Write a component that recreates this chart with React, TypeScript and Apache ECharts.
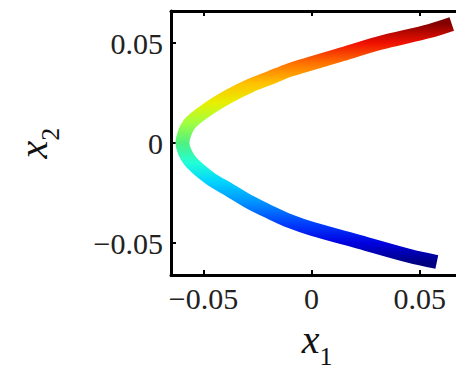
import React, { useEffect, useRef } from "react";
import * as echarts from "echarts";

// Curve, from the lower (blue) end to the upper (red) end
const x1Values = [0.0579, 0.0454, 0.0222, 0.0005, -0.0102, -0.0194, -0.0287, -0.038, -0.0472, -0.0565, -0.0597, -0.0565, -0.0472, -0.038, -0.0287, -0.0194, -0.0102, 0.0005, 0.013, 0.0315, 0.0546, 0.0648];
const x2Values = [-0.0595, -0.0565, -0.0495, -0.043, -0.039, -0.0345, -0.0295, -0.0235, -0.0175, -0.0085, 0, 0.0095, 0.0175, 0.0235, 0.0285, 0.0325, 0.0365, 0.04, 0.044, 0.05, 0.056, 0.0595];

const xTickValues = [-0.05, 0, 0.05];
const xTickLabels = ["\u22120.05", "0", "0.05"];
const yTickValues = [-0.05, 0, 0.05];
const yTickLabels = ["\u22120.05", "0", "0.05"];

// jet-like colours sampled at x2 = -0.06, -0.05, ..., 0.06
const colorStops = ["#000080", "#0000e0", "#0040ff", "#0090ff", "#00d0ff", "#20ffd8", "#50f080", "#a0ff40", "#e8f000", "#ffc000", "#ff7000", "#f01000", "#800000"];

const SERIF = "'Liberation Serif', 'DejaVu Serif', serif";

export default function App() {
  const ref = useRef<HTMLDivElement>(null);
  useEffect(() => {
    if (!ref.current) return;
    const chart = echarts.init(ref.current, null, { renderer: "svg" });
    const data = x1Values.map((x, i) => [x, x2Values[i]]);
    const fmt = (vals: number[], labels: string[]) => (v: number) => {
      const i = vals.findIndex((t) => Math.abs(t - v) < 1e-9);
      return i >= 0 ? labels[i] : "";
    };
    const nameRich = {
      x: { fontFamily: SERIF, fontStyle: "italic", fontSize: 40, lineHeight: 44, verticalAlign: "top", color: "#111" },
      s: { fontFamily: SERIF, fontSize: 26, lineHeight: 24, padding: [24, 0, 0, 0], verticalAlign: "top", color: "#111" },
    };
    const labelStyle = { fontFamily: SERIF, fontSize: 30, color: "#222" };
    chart.setOption({
      animation: false,
      backgroundColor: "#fff",
      grid: { left: 171, top: 11, right: -7, bottom: 98, containLabel: false, outerBoundsMode: "none" },
      visualMap: {
        show: false,
        type: "continuous",
        dimension: 1,
        seriesIndex: 0,
        min: -0.06,
        max: 0.06,
        inRange: { color: colorStops },
      },
      xAxis: [
        {
          type: "value",
          position: "bottom",
          min: -0.065,
          max: 0.07,
          splitLine: { show: false },
          axisLine: { show: true, onZero: false, lineStyle: { color: "#000", width: 3 } },
          axisTick: { show: true, inside: true, length: 5, customValues: xTickValues, lineStyle: { color: "#000", width: 2 } },
          axisLabel: { show: true, margin: 8, customValues: xTickValues, formatter: fmt(xTickValues, xTickLabels), ...labelStyle },
          name: "{x|x}{s|1}",
          nameLocation: "middle",
          nameGap: 44,
          nameTextStyle: { rich: nameRich },
        },
        {
          type: "value",
          position: "top",
          min: -0.065,
          max: 0.07,
          splitLine: { show: false },
          axisLine: { show: true, onZero: false, lineStyle: { color: "#000", width: 3 } },
          axisTick: { show: true, inside: true, length: 5, customValues: xTickValues, lineStyle: { color: "#000", width: 2 } },
          axisLabel: { show: false },
        },
      ],
      yAxis: [
        {
          type: "value",
          position: "left",
          min: -0.066,
          max: 0.066,
          splitLine: { show: false },
          axisLine: { show: true, onZero: false, lineStyle: { color: "#000", width: 3 } },
          axisTick: { show: true, inside: true, length: 5, customValues: yTickValues, lineStyle: { color: "#000", width: 2 } },
          axisLabel: { show: true, margin: 8, customValues: yTickValues, formatter: fmt(yTickValues, yTickLabels), ...labelStyle },
          name: "{x|x}{s|2}",
          nameLocation: "middle",
          nameRotate: 90,
          nameGap: 114,
          nameTextStyle: { rich: nameRich },
        },
        {
          type: "value",
          position: "right",
          min: -0.066,
          max: 0.066,
          splitLine: { show: false },
          axisLine: { show: true, onZero: false, lineStyle: { color: "#000", width: 3 } },
          axisTick: { show: false },
          axisLabel: { show: false },
        },
      ],
      series: [
        {
          type: "line",
          xAxisIndex: 0,
          yAxisIndex: 0,
          data,
          smooth: 0.3,
          showSymbol: false,
          lineStyle: { width: 14, cap: "butt", join: "round" },
        },
      ],
    });
    return () => chart.dispose();
  }, []);
  return <div ref={ref} style={{ position: "absolute", left: 0, top: 0, width: 456, height: 373 }} />;
}
